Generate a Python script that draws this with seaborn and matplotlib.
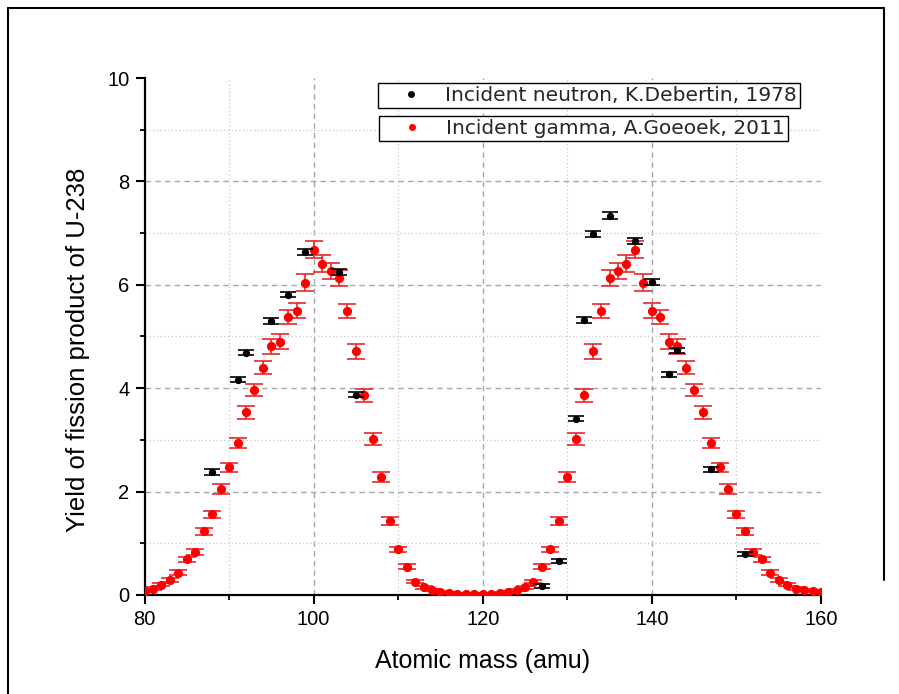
import numpy as np
import pandas as pd
import matplotlib
matplotlib.use("Agg")
import matplotlib.pyplot as plt
import seaborn as sns
from matplotlib.lines import Line2D
from matplotlib.ticker import MultipleLocator

# ---------------- data ----------------
gamma_mass = list(range(80, 161))
gamma_yield = [0.07, 0.12, 0.20, 0.29, 0.43, 0.69, 0.83, 1.23, 1.56, 2.05,
               2.47, 2.94, 3.53, 3.97, 4.40, 4.81, 4.90, 5.38, 5.50, 6.04,
               6.68, 6.41, 6.27, 6.13, 5.49, 4.71, 3.86, 3.02, 2.28, 1.43,
               0.88, 0.55, 0.26, 0.15, 0.09, 0.05, 0.03, 0.02, 0.02, 0.02,
               0.02, 0.02, 0.03, 0.05, 0.09, 0.15, 0.26, 0.55, 0.88, 1.43,
               2.28, 3.02, 3.86, 4.71, 5.49, 6.13, 6.27, 6.41, 6.68, 6.04,
               5.50, 5.38, 4.90, 4.81, 4.40, 3.97, 3.53, 2.94, 2.47, 2.05,
               1.56, 1.23, 0.83, 0.69, 0.43, 0.29, 0.20, 0.12, 0.09, 0.07,
               0.05]
gamma_err = [0.02, 0.03, 0.03, 0.03, 0.05, 0.05, 0.05, 0.07, 0.07, 0.09,
             0.09, 0.09, 0.12, 0.12, 0.12, 0.14, 0.14, 0.14, 0.14, 0.16,
             0.16, 0.16, 0.16, 0.16, 0.14, 0.14, 0.12, 0.12, 0.09, 0.07,
             0.05, 0.05, 0.03, 0.03, 0.02, 0.02, 0.02, 0.02, 0.02, 0.02,
             0.02, 0.02, 0.02, 0.02, 0.02, 0.03, 0.03, 0.05, 0.05, 0.07,
             0.09, 0.12, 0.12, 0.14, 0.14, 0.16, 0.16, 0.16, 0.16, 0.16,
             0.14, 0.14, 0.14, 0.14, 0.12, 0.12, 0.12, 0.09, 0.09, 0.09,
             0.07, 0.07, 0.05, 0.05, 0.05, 0.03, 0.03, 0.03, 0.02, 0.02,
             0.02]

neutron_mass = [88, 91, 92, 95, 97, 99, 103, 105, 127, 129,
                131, 132, 133, 135, 138, 140, 142, 143, 147, 151]
neutron_yield = [2.38, 4.16, 4.69, 5.30, 5.81, 6.64, 6.25, 3.87, 0.17, 0.66,
                 3.41, 5.32, 6.98, 7.34, 6.85, 6.05, 4.27, 4.73, 2.43, 0.79]
neutron_err = [0.05, 0.05, 0.05, 0.05, 0.05, 0.06, 0.06, 0.05, 0.04, 0.04,
               0.05, 0.05, 0.06, 0.06, 0.06, 0.06, 0.05, 0.05, 0.05, 0.04]

label_neutron = "Incident neutron, K.Debertin, 1978"
label_gamma = "Incident gamma, A.Goeoek, 2011"
x_label = "Atomic mass (amu)"
y_label = "Yield of fission product of U-238"
x_ticks = [80, 100, 120, 140, 160]
y_ticks = [0, 2, 4, 6, 8, 10]

gamma_df = pd.DataFrame({"mass": gamma_mass, "yield": gamma_yield, "err": gamma_err})
neutron_df = pd.DataFrame({"mass": neutron_mass, "yield": neutron_yield, "err": neutron_err})

# ---------------- style ----------------
sns.set_theme(style="white")
plt.rcParams['font.family'] = ['Liberation Sans', 'DejaVu Sans']

RED = "#ff0000"
RED_ERR = "#e8282c"

fig = plt.figure(figsize=(8.99, 6.94), dpi=100)
fig.patch.set_facecolor("white")
ax = fig.add_axes([0.1608, 0.1427, 0.7524, 0.7449])
ax.set_facecolor("white")

# grid (interior only, like the original)
for v in [100, 120, 140]:
    ax.axvline(v, color="#a8a8a8", lw=1.0, ls=(0, (4, 3)), zorder=0)
for v in [90, 110, 130, 150]:
    ax.axvline(v, color="#c8c8c8", lw=0.9, ls=(0, (1, 2)), zorder=0)
for v in [2, 4, 6, 8]:
    ax.axhline(v, color="#a8a8a8", lw=1.0, ls=(0, (4, 3)), zorder=0)
for v in [1, 3, 5, 7, 9]:
    ax.axhline(v, color="#c8c8c8", lw=0.9, ls=(0, (1, 2)), zorder=0)

# error bars
ax.errorbar(gamma_df["mass"], gamma_df["yield"], yerr=gamma_df["err"], fmt="none",
            ecolor=RED_ERR, elinewidth=1.2, capsize=6.5, capthick=1.2, zorder=2)
ax.errorbar(neutron_df["mass"], neutron_df["yield"], yerr=neutron_df["err"], fmt="none",
            ecolor="black", elinewidth=1.2, capsize=5.5, capthick=1.2, zorder=4)

# points
sns.scatterplot(data=gamma_df, x="mass", y="yield", color=RED, s=44, linewidth=0,
                ax=ax, zorder=3, legend=False)
sns.scatterplot(data=neutron_df, x="mass", y="yield", color="black", s=28, linewidth=0,
                ax=ax, zorder=5, legend=False)

ax.set_xlim(80, 160)
ax.set_ylim(0, 10)
ax.set_xticks(x_ticks)
ax.set_yticks(y_ticks)
ax.xaxis.set_minor_locator(MultipleLocator(10))
ax.yaxis.set_minor_locator(MultipleLocator(1))

for s in ["top", "right"]:
    ax.spines[s].set_visible(False)
for s in ["left", "bottom"]:
    ax.spines[s].set_color("black")
    ax.spines[s].set_linewidth(1.6)

ax.tick_params(which="major", direction="out", length=6.5, width=1.5, color="black",
               labelsize=14.5, pad=4.5, bottom=True, left=True, labelcolor="black")
ax.tick_params(which="minor", direction="out", length=3.5, width=1.3, color="black",
               bottom=True, left=True)

ax.set_xlabel(x_label, fontsize=18, color="black", labelpad=14.5)
ax.set_ylabel(y_label, fontsize=18.5, color="black")
ax.yaxis.set_label_coords(-0.081, 0.474)

# two separately framed legend entries
h1 = Line2D([], [], ls="none", marker="o", color="black", markersize=4)
h2 = Line2D([], [], ls="none", marker="o", color=RED, markersize=4)
leg_font = {"family": "DejaVu Sans", "size": 14.5}
common = dict(prop=leg_font, frameon=True, fancybox=False, edgecolor="black",
              framealpha=1, borderpad=0.15, handlelength=3.0, handletextpad=0.2,
              loc="upper left", bbox_transform=fig.transFigure, borderaxespad=0)
leg1 = ax.legend([h1], [label_neutron], bbox_to_anchor=(0.4205, 0.8804), **common)
leg1.get_frame().set_linewidth(1.0)
ax.add_artist(leg1)
leg2 = ax.legend([h2], [label_gamma], bbox_to_anchor=(0.4216, 0.8329), **common)
leg2.get_frame().set_linewidth(1.0)

# outer picture frame
fx0, fy1, fx1 = 8 / 899, 1 - 8 / 694, 884 / 899
fig.add_artist(Line2D([fx0, fx0], [0, fy1], transform=fig.transFigure, color="black", lw=1.5))
fig.add_artist(Line2D([fx0, fx1], [fy1, fy1], transform=fig.transFigure, color="black", lw=1.5))
fig.add_artist(Line2D([fx1, fx1], [fy1, 1 - 580 / 694], transform=fig.transFigure,
                      color="black", lw=1.5))

fig.savefig("out.png", dpi=100, facecolor="white")
